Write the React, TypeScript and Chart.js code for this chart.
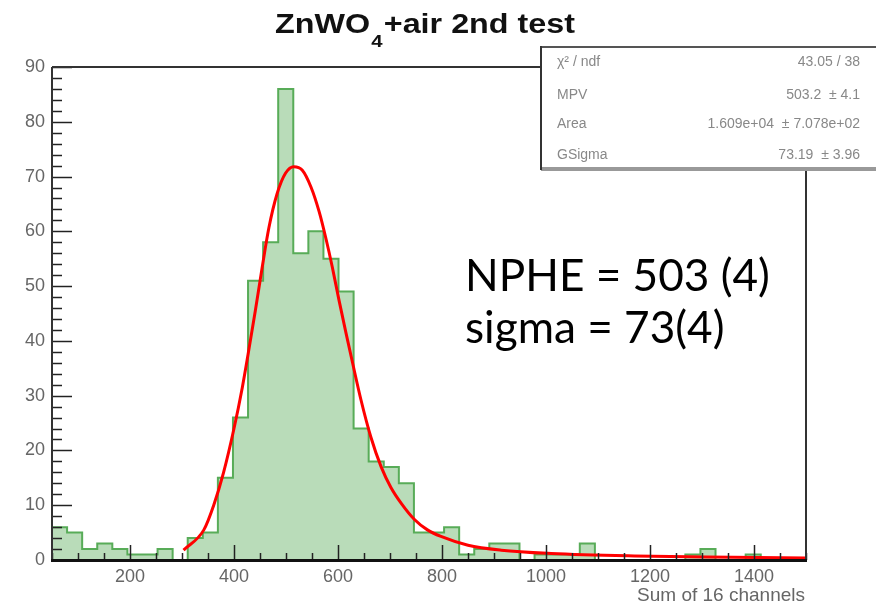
import React, { useEffect, useRef } from 'react';
import { Chart, registerables } from 'chart.js';

Chart.register(...registerables);

// ---------- data ----------
const HIST_MIN = 50;
const HIST_MAX = 1500;
const BIN_COUNTS = [
  6, 5, 2, 3, 2, 1, 1, 2, 0, 4,
  5, 15, 26, 51, 58, 86, 56, 60, 55, 49,
  24, 18, 17, 14, 5, 5, 6, 1, 2, 3,
  3, 0, 1, 1, 1, 3, 0, 0, 0, 0,
  0, 0, 1, 2, 0, 0, 1, 0, 0, 0,
];

const FIT_X = [303, 342, 361, 380, 400, 416, 427, 441, 454, 467, 483, 499, 515, 531, 548, 564, 577, 589, 602, 615, 628, 644, 663, 683, 702, 722, 747, 772, 798, 850, 914, 1010, 1170, 1360, 1500];
const FIT_Y = [1.8, 5.5, 10.0, 16.0, 24.0, 31.5, 37.5, 45.5, 53.3, 60.6, 66.9, 70.6, 71.8, 71.2, 68.1, 63.5, 58.6, 53.5, 47.4, 41.6, 36.0, 29.3, 22.5, 17.0, 13.2, 10.3, 7.4, 5.5, 4.3, 2.7, 1.8, 1.2, 0.75, 0.5, 0.35];

const X_TICKS = [200, 400, 600, 800, 1000, 1200, 1400];
const Y_TICKS = [0, 10, 20, 30, 40, 50, 60, 70, 80, 90];
const X_MINOR_STEP = 50;
const Y_MINOR_STEP = 2;
const Y_MAX = 90;

const TITLE_MAIN = 'ZnWO';
const TITLE_SUB = '4';
const TITLE_REST = '+air 2nd test';
const X_TITLE = 'Sum of 16 channels';

const STATS_LABELS = ['χ² / ndf', 'MPV', 'Area', 'GSigma'];
const STATS_VALUES = ['43.05 / 38', '503.2  ± 4.1', '1.609e+04  ± 7.078e+02', '73.19  ± 3.96'];

const NOTE_LINES = ['NPHE = 503 (4)', 'sigma = 73(4)'];

// ---------- helpers ----------
const BIN_WIDTH = (HIST_MAX - HIST_MIN) / BIN_COUNTS.length;
const histPoints = [{ x: HIST_MIN, y: 0 }].concat(
  BIN_COUNTS.map((v, i) => ({ x: HIST_MIN + (i + 1) * BIN_WIDTH, y: v }))
);
const fitPoints = FIT_X.map((x, i) => ({ x, y: FIT_Y[i] }));

const SANS = '"Liberation Sans", Arial, sans-serif';

const decor = {
  id: 'rootDecor',
  afterDatasetsDraw(chart: any) {
    const { ctx, chartArea: a, scales } = chart;
    const xs = scales.x;
    const ys = scales.y;
    ctx.save();
    ctx.strokeStyle = '#222';
    const seg = (x1: number, y1: number, x2: number, y2: number) => {
      ctx.beginPath();
      ctx.moveTo(x1, y1);
      ctx.lineTo(x2, y2);
      ctx.stroke();
    };
    ctx.lineWidth = 1.5;
    for (let v = 0; v <= Y_MAX; v += Y_MINOR_STEP) {
      const py = Math.round(ys.getPixelForValue(v)) + 0.5;
      if (Y_TICKS.includes(v)) seg(a.left, py, a.left + 20, py);
      else seg(a.left, py, a.left + 10, py);
    }
    for (let v = HIST_MIN; v <= HIST_MAX; v += X_MINOR_STEP) {
      const px = Math.round(xs.getPixelForValue(v)) + 0.5;
      if (X_TICKS.includes(v)) seg(px, a.bottom, px, a.bottom - 15);
      else seg(px, a.bottom, px, a.bottom - 7);
    }
    ctx.strokeStyle = '#333';
    ctx.lineWidth = 2;
    seg(a.left, a.top, a.right, a.top);
    seg(a.right, a.top, a.right, a.bottom);
    seg(a.left, a.top, a.left, a.bottom);
    ctx.strokeStyle = '#111';
    ctx.lineWidth = 3;
    seg(a.left - 1, a.bottom + 0.5, a.right + 1, a.bottom + 0.5);
    ctx.restore();
  },
  afterDraw(chart: any) {
    const { ctx } = chart;
    ctx.save();

    // ---- stats box ----
    const bx = 541, by = 47, bw = 340, bh = 121;
    ctx.fillStyle = '#ffffff';
    ctx.fillRect(bx, by, bw, bh);
    ctx.fillStyle = '#999';
    ctx.fillRect(bx, by + bh - 1, bw, 4);
    ctx.fillStyle = '#555';
    ctx.fillRect(bx, by - 1, bw, 2);
    ctx.fillStyle = '#333';
    ctx.fillRect(bx - 1, by - 1, 2, bh + 3);
    ctx.font = `14px ${SANS}`;
    ctx.fillStyle = '#888';
    ctx.textBaseline = 'middle';
    const rowY = [62, 95, 124, 155];
    STATS_LABELS.forEach((t, i) => {
      ctx.textAlign = 'left';
      ctx.fillText(t, 557, rowY[i]);
      ctx.textAlign = 'right';
      ctx.fillText(STATS_VALUES[i], 860, rowY[i]);
    });

    // ---- title ----
    ctx.fillStyle = '#111';
    ctx.textBaseline = 'alphabetic';
    ctx.textAlign = 'left';
    const fMain = `bold 27px ${SANS}`;
    const fSub = `bold 17px ${SANS}`;
    ctx.font = fMain;
    const w1 = ctx.measureText(TITLE_MAIN).width;
    const w3 = ctx.measureText(TITLE_REST).width;
    ctx.font = fSub;
    const w2 = ctx.measureText(TITLE_SUB).width + 2;
    const total = w1 + w2 + w3;
    const sx = 300 / total;
    ctx.save();
    ctx.translate(275, 0);
    ctx.scale(sx, 1);
    ctx.font = fMain;
    ctx.fillText(TITLE_MAIN, 0, 33);
    ctx.font = fSub;
    ctx.fillText(TITLE_SUB, w1 + 1, 47);
    ctx.font = fMain;
    ctx.fillText(TITLE_REST, w1 + w2, 33);
    ctx.restore();

    // ---- x axis title ----
    ctx.font = `19px ${SANS}`;
    ctx.fillStyle = '#666';
    ctx.textAlign = 'right';
    ctx.fillText(X_TITLE, 805, 601);

    // ---- annotation ----
    ctx.fillStyle = '#000';
    ctx.textAlign = 'left';
    let fs = 44;
    ctx.font = `${fs}px Lato, "Open Sans", sans-serif`;
    const nw = ctx.measureText(NOTE_LINES[0]).width;
    fs = fs * 305 / nw;
    ctx.font = `${fs}px Lato, "Open Sans", sans-serif`;
    ctx.fillText(NOTE_LINES[0], 465, 291);
    ctx.fillText(NOTE_LINES[1], 465, 343);

    ctx.restore();
  },
};

export default function App() {
  const ref = useRef<HTMLCanvasElement>(null);
  useEffect(() => {
    const canvas = ref.current;
    if (!canvas) return;
    const chart = new Chart(canvas, {
      type: 'line',
      data: {
        datasets: [
          {
            label: 'hist',
            data: histPoints,
            stepped: 'after',
            fill: 'origin',
            backgroundColor: 'rgb(185,220,185)',
            borderColor: 'rgb(88,172,88)',
            borderWidth: 2,
            pointRadius: 0,
            order: 2,
          },
          {
            label: 'fit',
            data: fitPoints,
            fill: false,
            borderColor: '#ff0000',
            borderWidth: 3,
            pointRadius: 0,
            cubicInterpolationMode: 'monotone',
            order: 1,
          },
        ],
      } as any,
      options: {
        responsive: false,
        animation: false,
        devicePixelRatio: 1,
        layout: { padding: { top: 67, right: 70, left: 0, bottom: 0 } },
        plugins: {
          legend: { display: false },
          title: { display: false },
          tooltip: { enabled: false },
        },
        scales: {
          x: {
            type: 'linear',
            min: HIST_MIN,
            max: HIST_MAX,
            afterBuildTicks: (s: any) => {
              s.ticks = X_TICKS.map((v) => ({ value: v }));
            },
            afterFit: (s: any) => {
              s.height = 46;
            },
            grid: { display: false, drawTicks: false },
            border: { display: false },
            ticks: {
              color: '#666',
              font: { size: 18, family: SANS },
              padding: 6,
              maxRotation: 0,
              autoSkip: false,
              callback: (v: any) => String(v),
            },
          },
          y: {
            type: 'linear',
            min: 0,
            max: Y_MAX,
            afterBuildTicks: (s: any) => {
              s.ticks = Y_TICKS.map((v) => ({ value: v }));
            },
            afterFit: (s: any) => {
              s.width = 52;
            },
            grid: { display: false, drawTicks: false },
            border: { display: false },
            ticks: {
              color: '#666',
              font: { size: 18, family: SANS },
              padding: 7,
              autoSkip: false,
              callback: (v: any) => String(v),
            },
          },
        },
      } as any,
      plugins: [decor],
    });
    return () => chart.destroy();
  }, []);
  return (
    <div style={{ position: 'absolute', left: 0, top: 0, width: 876, height: 606, background: '#fff' }}>
      <canvas ref={ref} width={876} height={606} style={{ display: 'block', width: 876, height: 606 }} />
    </div>
  );
}
